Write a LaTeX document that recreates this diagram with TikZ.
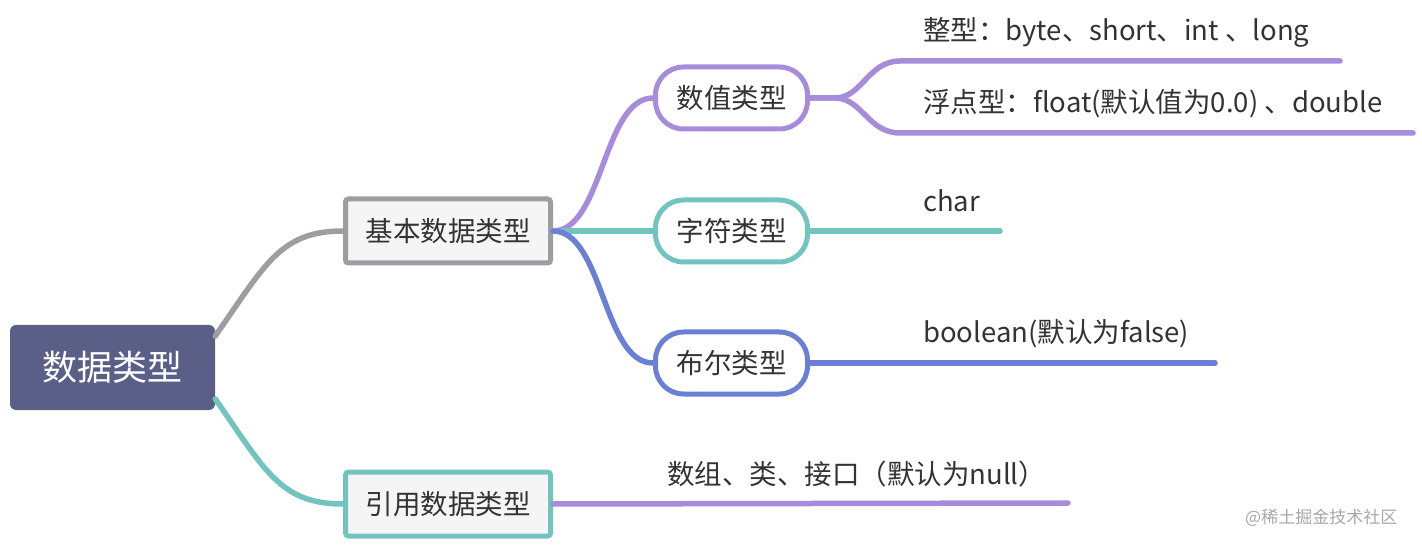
\documentclass[tikz,border=0pt]{standalone}
\usepackage{fontspec}
\setmainfont{Noto Sans CJK SC}
\usetikzlibrary{positioning,calc}
\definecolor{rootblue}{HTML}{5A5F87}
\definecolor{boxfill}{HTML}{F5F5F5}
\definecolor{linegray}{HTML}{9C9EA2}
\definecolor{lineteal}{HTML}{72C4BF}
\definecolor{linepurple}{HTML}{A68CDA}
\definecolor{lineblue}{HTML}{6B7FD4}
\definecolor{textdark}{HTML}{333333}
\definecolor{markgray}{HTML}{A8A8A8}
\begin{document}
\begin{tikzpicture}[x=1pt, y=-1pt, line cap=round,
    root block/.style={fill=rootblue, rounded corners=6pt, minimum width=205pt, minimum height=85pt, inner sep=0pt, text=white, font=\fontsize{35}{40}\selectfont},
    main block/.style={draw, line width=5pt, fill=boxfill, rounded corners=3pt, minimum width=205pt, minimum height=64pt, inner sep=0pt, text=textdark, font=\fontsize{27.5}{32}\selectfont},
    sub block/.style={draw, line width=5pt, fill=white, rounded corners=28pt, minimum width=152pt, minimum height=62pt, inner sep=0pt, text=textdark, font=\fontsize{27.5}{32}\selectfont},
    leaf/.style={anchor=west, inner sep=0pt, text=textdark, font=\fontsize{27.5}{32}\selectfont},
    branch/.style={line width=5.5pt}]
    \fill[white] (0,0) rectangle (1422,545);
    \useasboundingbox (0,0) rectangle (1422,545);

    \node[root block] (root) at (112.5,367.5) {数据类型};
    \node[main block, draw=linegray] (basic) at (448,231) {基本数据类型};
    \node[main block, draw=lineteal] (ref) at (448,504) {引用数据类型};

    \draw[branch, linegray] (root.17) .. controls (265,265) and (280,231) .. (basic.west);
    \draw[branch, lineteal] (root.-17) .. controls (265,470) and (280,504) .. (ref.west);

    \node[sub block, draw=linepurple] (num) at (731.5,98) {数值类型};
    \node[sub block, draw=lineteal] (chr) at (731.5,231) {字符类型};
    \node[sub block, draw=lineblue] (bool) at (731.5,363) {布尔类型};

    \draw[branch, linepurple] (basic.east) .. controls (603,231) and (603,98) .. (num.west);
    \draw[branch, lineteal] (basic.east) -- (chr.west);
    \draw[branch, lineblue] (basic.east) .. controls (603,231) and (603,363) .. (bool.west);

    \coordinate (intend) at (1340,61);
    \coordinate (floatend) at (1413,133);
    \coordinate (charend) at (1000,231);
    \coordinate (boolend) at (1215,363);
    \coordinate (refend) at (1068,503);

    \draw[branch, linepurple] (num.east) -- (835,98) .. controls (862,98) and (868,61) .. (900,61) -- (intend);
    \draw[branch, linepurple] (num.east) -- (835,98) .. controls (862,98) and (868,133) .. (900,133) -- (floatend);
    \draw[branch, lineteal] (chr.east) -- (charend);
    \draw[branch, lineblue] (bool.east) -- (boolend);
    \draw[branch, linepurple] (ref.east) -- (refend);

    \node[leaf] (intlabel) at (923,32) {整型：byte、short、int 、long};
    \node[leaf] (floatlabel) at (923,104) {浮点型：float(默认值为0.0) 、double};
    \node[leaf] (charlabel) at (923,201) {char};
    \node[leaf] (boollabel) at (923,334) {boolean(默认为false)};
    \node[leaf] (reflabel) at (667,474) {数组、类、接口（默认为null）};

    \node[anchor=west, inner sep=0pt, text=markgray, font=\fontsize{17}{20}\selectfont] (mark) at (1245,518) {@稀土掘金技术社区};
\end{tikzpicture}
\end{document}
